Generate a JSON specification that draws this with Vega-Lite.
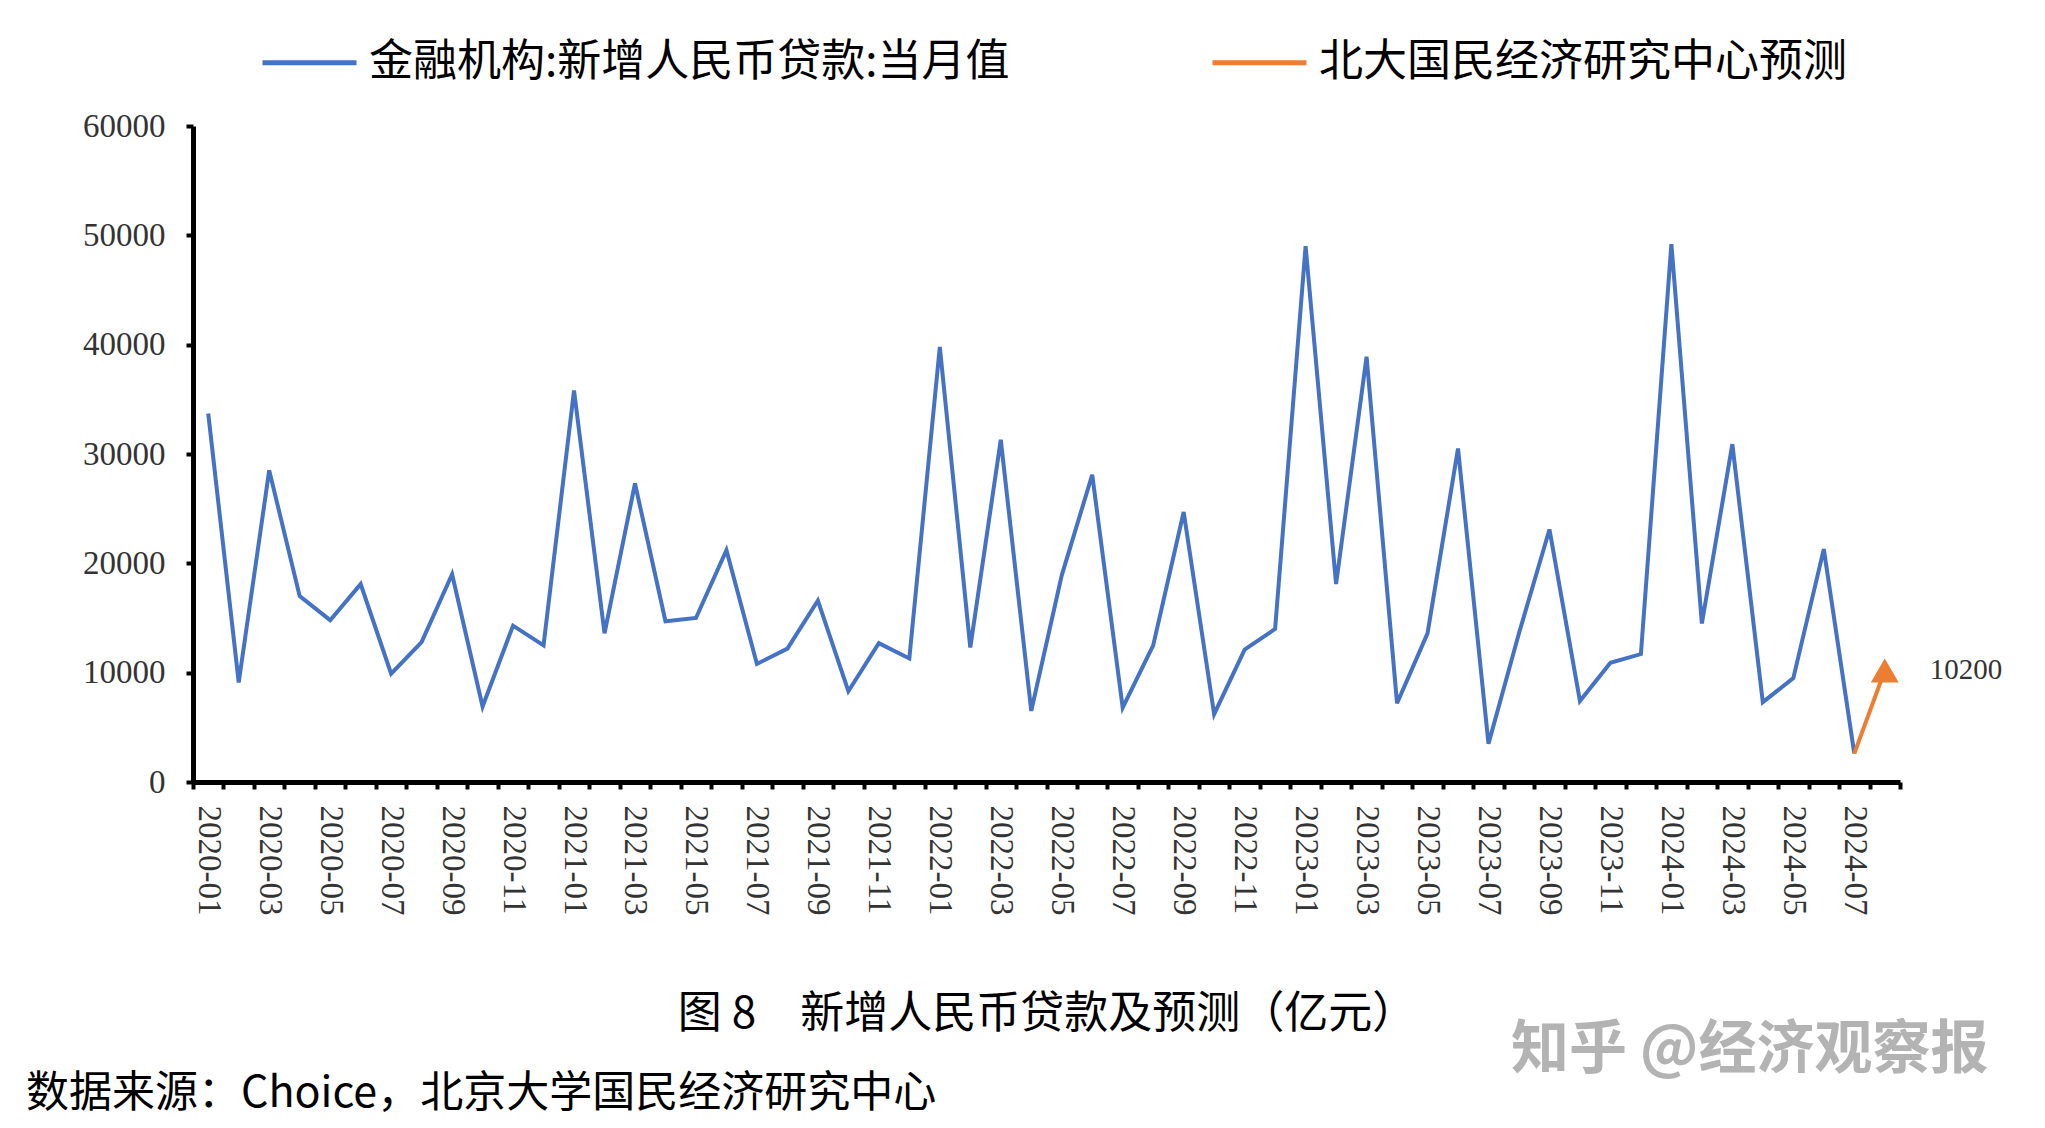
{
  "$schema": "https://vega.github.io/schema/vega-lite/v6.json",
  "autosize": {"type": "none"},
  "width": 1707,
  "height": 656,
  "padding": {"left": 193, "top": 126, "right": 145, "bottom": 346},
  "background": "white",
  "config": {"view": {"stroke": null}},
  "title": {
    "text": "数据来源：Choice，北京大学国民经济研究中心",
    "orient": "bottom",
    "anchor": "start",
    "frame": "group",
    "dx": -167,
    "offset": -6,
    "font": "Noto Sans CJK SC",
    "fontSize": 43,
    "fontWeight": "normal",
    "color": "#000000"
  },
  "data": {
    "values": [
      {"m": "2020-01", "v": 33700, "s": "金融机构:新增人民币贷款:当月值"},
      {"m": "2020-02", "v": 9100, "s": "金融机构:新增人民币贷款:当月值"},
      {"m": "2020-03", "v": 28500, "s": "金融机构:新增人民币贷款:当月值"},
      {"m": "2020-04", "v": 17000, "s": "金融机构:新增人民币贷款:当月值"},
      {"m": "2020-05", "v": 14800, "s": "金融机构:新增人民币贷款:当月值"},
      {"m": "2020-06", "v": 18100, "s": "金融机构:新增人民币贷款:当月值"},
      {"m": "2020-07", "v": 9900, "s": "金融机构:新增人民币贷款:当月值"},
      {"m": "2020-08", "v": 12800, "s": "金融机构:新增人民币贷款:当月值"},
      {"m": "2020-09", "v": 19000, "s": "金融机构:新增人民币贷款:当月值"},
      {"m": "2020-10", "v": 6900, "s": "金融机构:新增人民币贷款:当月值"},
      {"m": "2020-11", "v": 14300, "s": "金融机构:新增人民币贷款:当月值"},
      {"m": "2020-12", "v": 12500, "s": "金融机构:新增人民币贷款:当月值"},
      {"m": "2021-01", "v": 35800, "s": "金融机构:新增人民币贷款:当月值"},
      {"m": "2021-02", "v": 13600, "s": "金融机构:新增人民币贷款:当月值"},
      {"m": "2021-03", "v": 27300, "s": "金融机构:新增人民币贷款:当月值"},
      {"m": "2021-04", "v": 14700, "s": "金融机构:新增人民币贷款:当月值"},
      {"m": "2021-05", "v": 15000, "s": "金融机构:新增人民币贷款:当月值"},
      {"m": "2021-06", "v": 21200, "s": "金融机构:新增人民币贷款:当月值"},
      {"m": "2021-07", "v": 10800, "s": "金融机构:新增人民币贷款:当月值"},
      {"m": "2021-08", "v": 12200, "s": "金融机构:新增人民币贷款:当月值"},
      {"m": "2021-09", "v": 16600, "s": "金融机构:新增人民币贷款:当月值"},
      {"m": "2021-10", "v": 8300, "s": "金融机构:新增人民币贷款:当月值"},
      {"m": "2021-11", "v": 12700, "s": "金融机构:新增人民币贷款:当月值"},
      {"m": "2021-12", "v": 11300, "s": "金融机构:新增人民币贷款:当月值"},
      {"m": "2022-01", "v": 39800, "s": "金融机构:新增人民币贷款:当月值"},
      {"m": "2022-02", "v": 12300, "s": "金融机构:新增人民币贷款:当月值"},
      {"m": "2022-03", "v": 31300, "s": "金融机构:新增人民币贷款:当月值"},
      {"m": "2022-04", "v": 6500, "s": "金融机构:新增人民币贷款:当月值"},
      {"m": "2022-05", "v": 18900, "s": "金融机构:新增人民币贷款:当月值"},
      {"m": "2022-06", "v": 28100, "s": "金融机构:新增人民币贷款:当月值"},
      {"m": "2022-07", "v": 6800, "s": "金融机构:新增人民币贷款:当月值"},
      {"m": "2022-08", "v": 12500, "s": "金融机构:新增人民币贷款:当月值"},
      {"m": "2022-09", "v": 24700, "s": "金融机构:新增人民币贷款:当月值"},
      {"m": "2022-10", "v": 6200, "s": "金融机构:新增人民币贷款:当月值"},
      {"m": "2022-11", "v": 12100, "s": "金融机构:新增人民币贷款:当月值"},
      {"m": "2022-12", "v": 14000, "s": "金融机构:新增人民币贷款:当月值"},
      {"m": "2023-01", "v": 49000, "s": "金融机构:新增人民币贷款:当月值"},
      {"m": "2023-02", "v": 18100, "s": "金融机构:新增人民币贷款:当月值"},
      {"m": "2023-03", "v": 38900, "s": "金融机构:新增人民币贷款:当月值"},
      {"m": "2023-04", "v": 7200, "s": "金融机构:新增人民币贷款:当月值"},
      {"m": "2023-05", "v": 13600, "s": "金融机构:新增人民币贷款:当月值"},
      {"m": "2023-06", "v": 30500, "s": "金融机构:新增人民币贷款:当月值"},
      {"m": "2023-07", "v": 3500, "s": "金融机构:新增人民币贷款:当月值"},
      {"m": "2023-08", "v": 13600, "s": "金融机构:新增人民币贷款:当月值"},
      {"m": "2023-09", "v": 23100, "s": "金融机构:新增人民币贷款:当月值"},
      {"m": "2023-10", "v": 7400, "s": "金融机构:新增人民币贷款:当月值"},
      {"m": "2023-11", "v": 10900, "s": "金融机构:新增人民币贷款:当月值"},
      {"m": "2023-12", "v": 11700, "s": "金融机构:新增人民币贷款:当月值"},
      {"m": "2024-01", "v": 49200, "s": "金融机构:新增人民币贷款:当月值"},
      {"m": "2024-02", "v": 14500, "s": "金融机构:新增人民币贷款:当月值"},
      {"m": "2024-03", "v": 30900, "s": "金融机构:新增人民币贷款:当月值"},
      {"m": "2024-04", "v": 7300, "s": "金融机构:新增人民币贷款:当月值"},
      {"m": "2024-05", "v": 9500, "s": "金融机构:新增人民币贷款:当月值"},
      {"m": "2024-06", "v": 21300, "s": "金融机构:新增人民币贷款:当月值"},
      {"m": "2024-07", "v": 2600, "s": "金融机构:新增人民币贷款:当月值"},
      {"m": "2024-07", "v": 2600, "s": "北大国民经济研究中心预测"},
      {"m": "2024-08", "v": 10200, "s": "北大国民经济研究中心预测"}
    ]
  },
  "encoding": {
    "x": {
      "field": "m",
      "type": "ordinal",
      "bandPosition": 0.5,
      "scale": {"type": "band", "paddingInner": 0, "paddingOuter": 0},
      "axis": {
        "title": "图 8　新增人民币贷款及预测（亿元）",
        "titleFont": "Noto Sans CJK SC",
        "titleFontSize": 44,
        "titleFontWeight": "normal",
        "titleColor": "#000000",
        "titlePadding": 78,
        "domainColor": "#000000",
        "domainWidth": 5,
        "tickBand": "extent",
        "tickColor": "#000000",
        "tickWidth": 4,
        "tickSize": 7,
        "labelAngle": 90,
        "labelAlign": "left",
        "labelBaseline": "middle",
        "labelPadding": 16,
        "labelFont": "Liberation Serif",
        "labelFontSize": 33,
        "labelColor": "#333333",
        "labelOverlap": false,
        "labelExpr": "toNumber(substring(datum.value, 5, 7)) % 2 == 1 ? datum.value : ''",
        "grid": false
      }
    },
    "y": {
      "field": "v",
      "type": "quantitative",
      "scale": {"domain": [0, 60000], "nice": false},
      "axis": {
        "values": [0, 10000, 20000, 30000, 40000, 50000, 60000],
        "format": "d",
        "grid": false,
        "domainColor": "#000000",
        "domainWidth": 5,
        "tickColor": "#000000",
        "tickWidth": 4,
        "tickSize": 7,
        "labelPadding": 21,
        "labelFont": "Liberation Serif",
        "labelFontSize": 33,
        "labelColor": "#333333",
        "title": "知乎 @经济观察报",
        "titleAngle": 0,
        "titleX": 1795,
        "titleY": 924,
        "titleAlign": "right",
        "titleBaseline": "middle",
        "titleFont": "Noto Sans CJK SC",
        "titleFontSize": 58,
        "titleFontWeight": "bold",
        "titleColor": "#b3b3b3"
      }
    }
  },
  "layer": [
    {
      "mark": {"type": "line", "strokeWidth": 4},
      "encoding": {
        "color": {
          "field": "s",
          "type": "nominal",
          "scale": {
            "domain": ["金融机构:新增人民币贷款:当月值", "北大国民经济研究中心预测"],
            "range": ["#4472C4", "#ED7D31"]
          },
          "legend": {
            "title": null,
            "orient": "none",
            "direction": "horizontal",
            "legendX": 67,
            "legendY": -113,
            "padding": 0,
            "symbolType": "stroke",
            "symbolSize": 8836,
            "symbolStrokeWidth": 5,
            "labelFont": "Noto Sans CJK SC",
            "labelFontSize": 44,
            "labelColor": "#000000",
            "labelLimit": 0,
            "labelOffset": 10,
            "columnPadding": 192
          }
        }
      }
    },
    {
      "transform": [{"filter": "datum.m == '2024-08'"}],
      "mark": {"type": "point", "shape": "triangle-up", "filled": true, "size": 780, "opacity": 1, "color": "#ED7D31"}
    },
    {
      "transform": [{"filter": "datum.m == '2024-08'"}],
      "mark": {"type": "text", "align": "left", "baseline": "middle", "dx": 45, "font": "Liberation Serif", "fontSize": 29, "color": "#333333"},
      "encoding": {"text": {"field": "v", "type": "quantitative", "format": "d"}}
    }
  ]
}
